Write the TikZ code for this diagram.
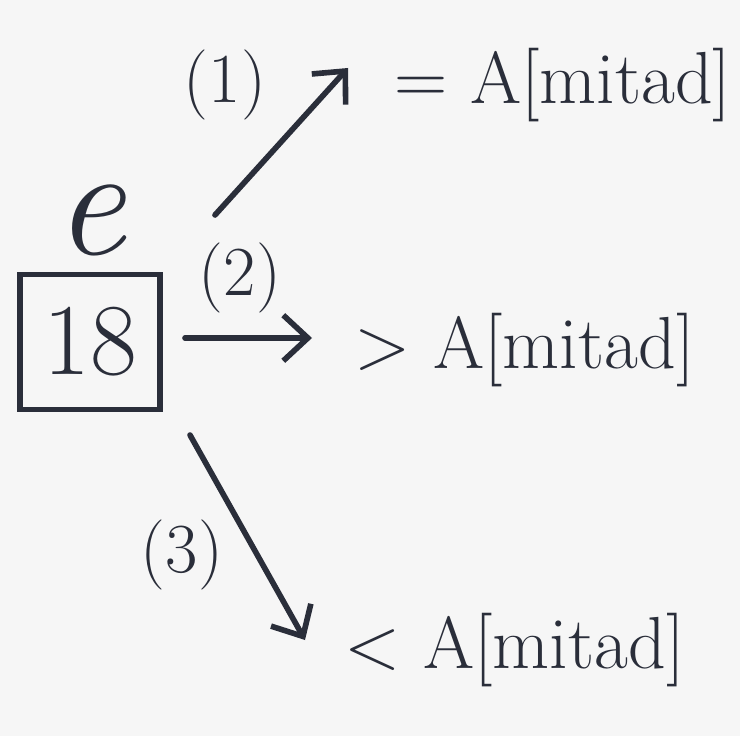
\documentclass[tikz,border=0pt]{standalone}
\usetikzlibrary{positioning, arrows.meta}
\definecolor{tinta}{HTML}{2A2E3A}
\definecolor{papel}{HTML}{F6F6F6}

\begin{document}
\begin{tikzpicture}[x=0.02cm, y=-0.02cm, line width=3.2pt, color=tinta,
        flecha/.style={-{Straight Barb[length=14pt, width=26pt, line width=3.2pt]}, line cap=round},
        texto/.style={font=\fontsize{42}{46}\selectfont, inner sep=0pt, anchor=west},
        etiq/.style={font=\fontsize{40}{44}\selectfont, inner sep=0pt}]
        \fill[papel] (0,0) rectangle (740,736);
        % caja del elemento
        \node[draw, minimum width=2.8cm, minimum height=2.7cm, font=\fontsize{58}{62}\selectfont](caja) at (90,342){18};
        \node[above=0.25cm of caja, font=\itshape\fontsize{90}{94}\selectfont, inner sep=0pt](e){e};
        % resultados
        \node[texto](t1) at (392,85){= A[mitad]};
        \node[texto](t2) at (352,350){> A[mitad]};
        \node[texto](t3) at (342,650){< A[mitad]};
        % flechas
        \coordinate (a1) at (215,215);
        \coordinate (b1) at (348,68);
        \coordinate (a2) at (185,338);
        \coordinate (b2) at (312,338);
        \coordinate (a3) at (190,435);
        \coordinate (b3) at (305,640);
        \draw[flecha] (a1) -- (b1);
        \draw[flecha] (a2) -- (b2);
        \draw[flecha] (a3) -- (b3);
        \node[etiq](l1) at (225,85){(1)};
        \node[etiq](l2) at (240,278){(2)};
        \node[etiq](l3) at (182,555){(3)};
    \end{tikzpicture}
\end{document}
